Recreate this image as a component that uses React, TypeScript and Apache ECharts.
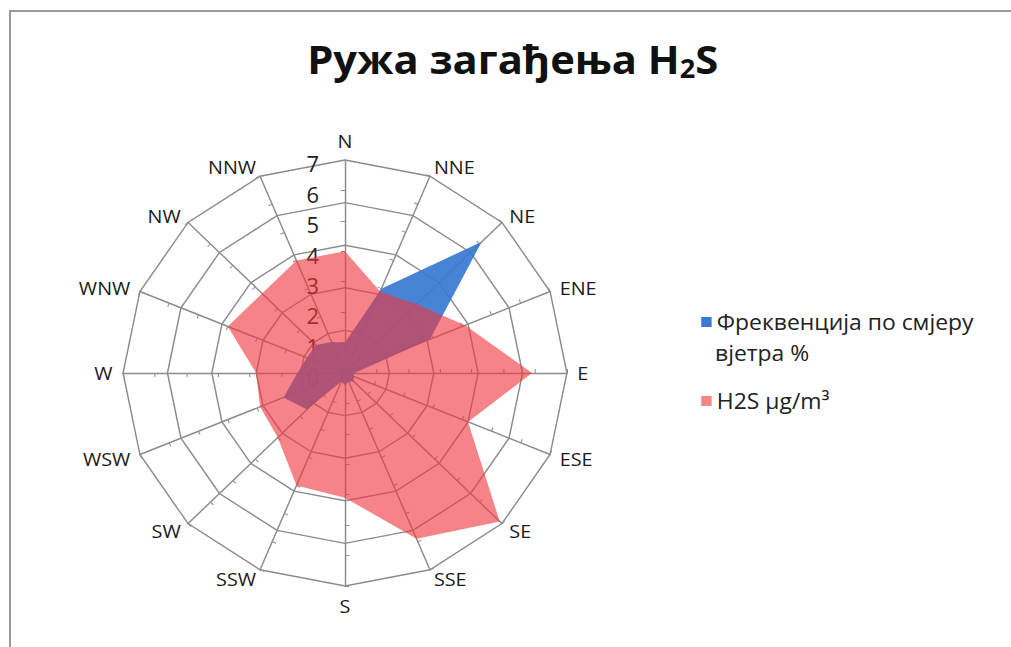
import React, { useEffect, useRef } from 'react';
import * as echarts from 'echarts';

const directions = ['N', 'NNE', 'NE', 'ENE', 'E', 'ESE', 'SE', 'SSE', 'S', 'SSW', 'SW', 'WSW', 'W', 'WNW', 'NW', 'NNW'];
const frequency = [1.0, 3.0, 6.1, 2.9, 0.3, 0.3, 0.4, 0.3, 0.4, 0.3, 1.7, 2.1, 1.5, 1.3, 1.3, 1.1];
const h2s = [4.0, 2.9, 3.2, 4.1, 5.9, 4.2, 6.9, 5.9, 4.1, 4.0, 3.0, 2.9, 2.8, 4.0, 3.7, 4.0];
const radialTicks = [0, 1, 2, 3, 4, 5, 6, 7];
const seriesNames = ['Фреквенција по смјеру вјетра %', 'H2S µg/m³'];

const FONT = '"Open Sans", "Noto Sans", sans-serif';
// the reference picture is slightly stretched horizontally
const SX = 1.042;
const CX = 345;
const CY = 373;
const px = (x: number) => CX + (x - CX) / SX;

export default function App() {
  const ref = useRef<HTMLDivElement>(null);
  useEffect(() => {
    if (!ref.current) return;
    const chart = echarts.init(ref.current, undefined, { renderer: 'svg' });
    // ECharts radar places indicators counter-clockwise; reorder to clockwise compass
    const order = directions.map((_, i) => (directions.length - i) % directions.length);
    const dirs = order.map((i) => directions[i]);
    const freq = order.map((i) => frequency[i]);
    const hs = order.map((i) => h2s[i]);
    const maxV = radialTicks[radialTicks.length - 1];
    const center = [CX, CY];
    const radius = 213;
    const gray = '#8c8c8c';
    chart.setOption({
      animation: false,
      backgroundColor: 'transparent',
      title: {
        text: 'Ружа загађења H{sub|2}S',
        left: px(302),
        top: 31,
        textStyle: {
          fontFamily: FONT,
          fontWeight: 'bold',
          fontSize: 40,
          color: '#111',
          rich: {
            sub: { fontFamily: FONT, fontWeight: 'bold', fontSize: 26, color: '#111', verticalAlign: 'bottom', padding: [19, 0, 0, 0] },
          },
        },
      },
      legend: {
        orient: 'vertical',
        left: px(696),
        top: 304,
        itemWidth: 10,
        itemHeight: 10,
        itemGap: 53,
        data: seriesNames.map((n) => ({ name: n, icon: 'rect' })),
        formatter: (n: string) => (n === seriesNames[0] ? 'Фреквенција по смјеру' : n),
        textStyle: { fontFamily: FONT, fontSize: 22, lineHeight: 26, color: '#222' },
      },
      graphic: [
        { type: 'text', left: px(715), top: 340, style: { text: 'вјетра %', font: `22px ${FONT}`, lineHeight: 26, fill: '#222' } },
      ],
      radar: [
        {
          center,
          radius,
          startAngle: 90,
          shape: 'polygon',
          splitNumber: 5,
          indicator: dirs.map((d) => ({ name: d, min: 0, max: maxV })),
          axisName: { color: '#1a1a1a', fontSize: 19, fontFamily: FONT },
          nameGap: 10,
          splitLine: { lineStyle: { color: gray, width: 1.4 } },
          splitArea: { show: false },
          axisLine: { lineStyle: { color: gray, width: 1.4 } },
        },
        {
          center,
          radius,
          startAngle: 90,
          shape: 'polygon',
          splitNumber: radialTicks.length - 1,
          indicator: dirs.map(() => ({ name: '', min: 0, max: maxV })),
          axisName: { show: false },
          splitLine: { show: false },
          splitArea: { show: false },
          axisLine: { show: false },
          axisTick: { show: true, length: 4, lineStyle: { color: gray, width: 1 } },
        },
      ],
      polar: { center, radius },
      angleAxis: {
        type: 'value', startAngle: 90, min: 0, max: 360,
        axisLine: { show: false }, axisTick: { show: false }, axisLabel: { show: false }, splitLine: { show: false },
      },
      radiusAxis: {
        type: 'value', min: radialTicks[0], max: maxV, interval: 1,
        axisLine: { show: false }, axisTick: { show: false }, splitLine: { show: false },
        axisLabel: {
          color: '#222', fontSize: 21, fontFamily: FONT, margin: 25,
          formatter: (v: number) => `{t|${v}}`,
          rich: { t: { color: '#222', fontSize: 21, fontFamily: FONT, padding: [8, 0, 0, 0] } },
        },
      },
      series: [
        {
          type: 'radar',
          radarIndex: 0,
          name: seriesNames[0],
          symbol: 'none',
          itemStyle: { color: '#3a7bd2' },
          lineStyle: { width: 0 },
          areaStyle: { color: '#3a7bd2', opacity: 0.93 },
          data: [{ value: freq, name: seriesNames[0] }],
        },
        {
          type: 'radar',
          radarIndex: 0,
          name: seriesNames[1],
          symbol: 'none',
          itemStyle: { color: '#f58787' },
          lineStyle: { width: 0 },
          areaStyle: { color: 'rgb(240,55,62)', opacity: 0.62 },
          data: [{ value: hs, name: seriesNames[1] }],
        },
      ],
    });
    return () => chart.dispose();
  }, []);
  return (
    <div style={{ position: 'fixed', left: 0, top: 0, width: 1011, height: 647, background: '#fff', overflow: 'hidden' }}>
      <div
        ref={ref}
        style={{ position: 'absolute', left: 0, top: 0, width: 1011, height: 647, transform: `scaleX(${SX})`, transformOrigin: `${CX}px ${CY}px` }}
      />
      <div style={{ position: 'absolute', left: 9, top: 10, width: 1020, height: 660, borderTop: '2px solid #9a9a9a', borderLeft: '2px solid #9a9a9a', pointerEvents: 'none' }} />
    </div>
  );
}
